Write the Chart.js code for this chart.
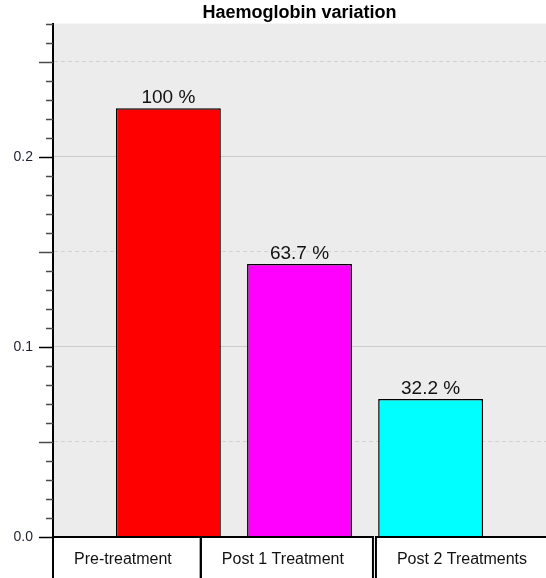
<!DOCTYPE html>
<html>
<head>
<meta charset="utf-8">
<script src="https://cdn.jsdelivr.net/npm/chart.js@4/dist/chart.umd.min.js"></script>
<style>
  body { margin: 0; background: #fff; }
</style>
</head>
<body>
<canvas id="hbChart" width="546" height="578"></canvas>
<script>
// chart data
var categories = ["Pre-treatment", "Post 1 Treatment", "Post 2 Treatments"];
var positions = [1, 2, 3];
var hbValues = [0.2255, 0.1436, 0.0726];
var pctLabels = ["100 %", "63.7 %", "32.2 %"];
var barColors = ["#ff0000", "#ff00ff", "#00ffff"];

var FONT = "'Liberation Sans', Arial, sans-serif";

function hundredths(v) {
    return Math.round(v * 100);
}

// grey plot background
var plotBg = {
    id: 'plotBg',
    beforeDraw: function (chart) {
        var ctx = chart.ctx, a = chart.chartArea;
        ctx.save();
        ctx.fillStyle = '#ececec';
        ctx.fillRect(a.left, a.top, a.right - a.left, a.bottom - a.top);
        ctx.restore();
    }
};

// tick marks of two lengths on the y axis
var yTicks = {
    id: 'yTicks',
    afterDraw: function (chart) {
        var ctx = chart.ctx, y = chart.scales.y, a = chart.chartArea;
        ctx.save();
        ctx.lineWidth = 1.5;
        y.ticks.forEach(function (t) {
            var r = hundredths(t.value);
            var py = Math.round(y.getPixelForValue(t.value)) + 0.5;
            var len = (r % 5 == 0) ? 14 : 7;
            ctx.strokeStyle = (r % 10 == 0) ? '#000' : '#4a4a4a';
            ctx.beginPath();
            ctx.moveTo(a.left - len, py);
            ctx.lineTo(a.left, py);
            ctx.stroke();
        });
        ctx.restore();
    }
};

// percentage text above each bar
var barText = {
    id: 'barText',
    afterDatasetsDraw: function (chart) {
        var ctx = chart.ctx;
        var meta = chart.getDatasetMeta(0);
        ctx.save();
        ctx.font = '19px ' + FONT;
        ctx.fillStyle = '#111';
        ctx.textAlign = 'center';
        ctx.textBaseline = 'alphabetic';
        meta.data.forEach(function (bar, i) {
            ctx.fillText(pctLabels[i], bar.x, bar.y - 5);
        });
        ctx.restore();
    }
};

// boxed category names under the plot
var labelBoxes = {
    id: 'labelBoxes',
    afterDraw: function (chart) {
        var ctx = chart.ctx, a = chart.chartArea;
        var top = a.bottom, bottom = chart.height + 2;
        ctx.save();
        ctx.font = '16px ' + FONT;
        ctx.strokeStyle = '#000';
        ctx.lineWidth = 2;
        ctx.fillStyle = '#111';
        ctx.textBaseline = 'alphabetic';
        var x = a.left;
        for (var i = 0; i < categories.length; i++) {
            var tw = ctx.measureText(categories[i]).width;
            var left = x, right = x + tw + 50;
            if (i == categories.length - 1) {
                left = x + 3;
                right = chart.width + 2;
            }
            ctx.strokeRect(left, top, right - left, bottom - top + 4);
            ctx.fillText(categories[i], left + 21, top + 27);
            x = right;
        }
        ctx.restore();
    }
};

var ctx = document.getElementById('hbChart').getContext('2d');
var hbChart = new Chart(ctx, {
    type: 'bar',
    data: {
        datasets: [{
            data: positions.map(function (p, i) { return { x: p, y: hbValues[i] }; }),
            backgroundColor: barColors,
            borderColor: '#000',
            borderWidth: 1.5,
            borderSkipped: 'start',
            categoryPercentage: 1,
            barPercentage: 0.8
        }]
    },
    options: {
        responsive: false,
        animation: false,
        layout: { padding: { top: 0, right: 0, bottom: 41, left: 0 } },
        plugins: {
            legend: { display: false },
            tooltip: { enabled: false },
            title: {
                display: true,
                text: 'Haemoglobin variation',
                fullSize: false,
                color: '#000',
                font: { family: FONT, size: 18, weight: 'bold', lineHeight: 1.2 },
                padding: { top: 2, bottom: 0 }
            }
        },
        scales: {
            x: {
                type: 'linear',
                min: 0.12,
                max: 3.88,
                offset: false,
                display: false,
                ticks: { stepSize: 1, includeBounds: false }
            },
            y: {
                min: 0,
                max: 0.27,
                afterFit: function (scale) { scale.width = 53; },
                border: {
                    display: true,
                    color: '#000',
                    width: 2,
                    dash: function (c) {
                        if (!c.tick) return [];
                        var r = hundredths(c.tick.value);
                        return (r % 10 != 0 && r % 5 == 0) ? [4, 3] : [];
                    }
                },
                grid: {
                    drawTicks: true,
                    tickLength: 14,
                    tickColor: 'transparent',
                    lineWidth: 1,
                    color: function (c) {
                        var r = hundredths(c.tick.value);
                        if (r == 0) return 'transparent';
                        if (r % 10 == 0) return '#cbcbcb';
                        if (r % 5 == 0) return '#d2d2d2';
                        return 'transparent';
                    }
                },
                ticks: {
                    stepSize: 0.01,
                    autoSkip: false,
                    padding: 6,
                    color: '#1e2030',
                    font: { family: FONT, size: 14 },
                    callback: function (v) {
                        return hundredths(v) % 10 == 0 ? v.toFixed(1) : '';
                    }
                }
            }
        }
    },
    plugins: [plotBg, yTicks, barText, labelBoxes]
});
</script>
</body>
</html>
